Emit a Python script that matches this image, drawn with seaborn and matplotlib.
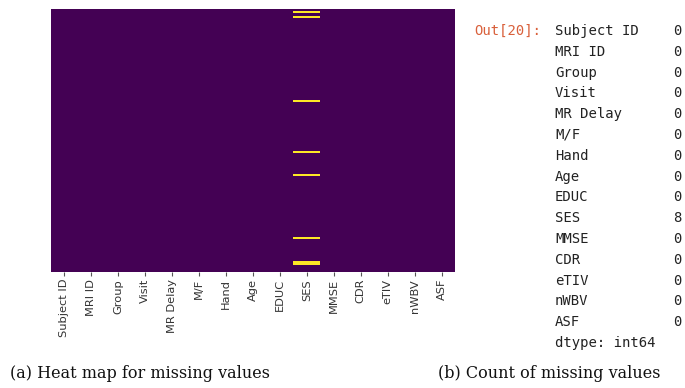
import numpy as np
import pandas as pd
import matplotlib
matplotlib.use("Agg")
import matplotlib.pyplot as plt
import seaborn as sns

# ---- data ----
columns = ["Subject ID", "MRI ID", "Group", "Visit", "MR Delay", "M/F", "Hand",
           "Age", "EDUC", "SES", "MMSE", "CDR", "eTIV", "nWBV", "ASF"]
missing_counts = [0, 0, 0, 0, 0, 0, 0, 0, 0, 8, 0, 0, 0, 0, 0]
n_rows = 150
ses_missing_rows = [1, 4, 52, 81, 94, 130, 144, 145]
out_prompt = "Out[20]:"
dtype_line = "dtype: int64"
caption_a = "(a) Heat map for missing values"
caption_b = "(b) Count of missing values"

# boolean "isnull" table built from the lists above
isnull = pd.DataFrame(False, index=range(n_rows), columns=columns)
isnull.loc[ses_missing_rows, "SES"] = True

sns.set_theme(style="white")
fig = plt.figure(figsize=(6.85, 3.88), dpi=100)
ax = fig.add_axes([51/685, 1 - 272/388, (455-51)/685, (272-9)/388])
sns.heatmap(isnull.astype(int), yticklabels=False, cbar=False, cmap="viridis",
            vmin=0, vmax=1, ax=ax)
ax.set_xticks(np.arange(len(columns)) + 0.5)
ax.set_xticklabels(columns, rotation=90, fontsize=8.2, color="#333333",
                   family="DejaVu Sans")
ax.tick_params(axis="x", length=3, width=0.8, color="#555555", bottom=True, pad=2)
ax.set_xlabel("")
ax.set_ylabel("")

# ---- pandas Series printout ----
mono = "DejaVu Sans Mono"
fs = 10
top_y = 31
step = 20.8
fig.text(474/685, 1 - top_y/388, out_prompt, family=mono, fontsize=fs,
         color="#D9603B", va="center", ha="left")
for i, (name, val) in enumerate(zip(columns, missing_counts)):
    y = 1 - (top_y + i*step)/388
    fig.text(555/685, y, name, family=mono, fontsize=fs, color="#222222",
             va="center", ha="left")
    fig.text(673/685, y, str(val), family=mono, fontsize=fs, color="#222222",
             va="center", ha="left")
fig.text(555/685, 1 - (top_y + len(columns)*step)/388, dtype_line, family=mono,
         fontsize=fs, color="#222222", va="center", ha="left")

# ---- captions ----
fig.text(10/685, 1 - 373/388, caption_a, family="DejaVu Serif", fontsize=11.5,
         color="#111111", va="center", ha="left")
fig.text(438/685, 1 - 373/388, caption_b, family="DejaVu Serif", fontsize=11.5,
         color="#111111", va="center", ha="left")

fig.savefig("out.png", dpi=100)
